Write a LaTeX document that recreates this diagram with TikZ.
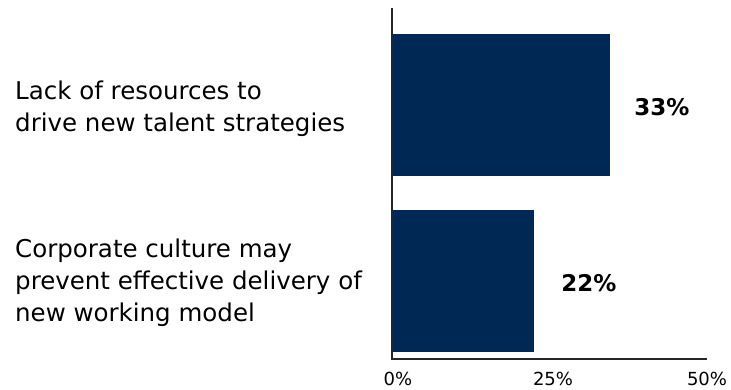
\documentclass[tikz,border=0pt]{standalone}
\usepackage{fontspec}
\setmainfont{DejaVu Sans}
\definecolor{navy}{HTML}{002855}
\tikzstyle{bar}=[fill=navy,inner sep=0pt,anchor=west]
\tikzstyle{val}=[font=\fontsize{23}{28}\selectfont\bfseries,inner sep=0pt]
\tikzstyle{tick}=[font=\fontsize{18}{22}\selectfont,inner sep=0pt]
\tikzstyle{cat}=[font=\fontsize{24.5}{32}\selectfont,align=left,anchor=west,inner sep=0pt]

\begin{document}
\begin{tikzpicture}[x=1pt,y=-1pt]
\useasboundingbox (0,0) rectangle (731,389);
\coordinate (top) at (392,8);
\coordinate (o) at (392,359);
\coordinate (end) at (707,359);
\node[bar,minimum width=218,minimum height=142] at (392,105) (b1) {};
\node[bar,minimum width=142,minimum height=142] at (392,281) (b2) {};
\node[val] at (662,107) (v1) {33\%};
\node[val] at (589,283) (v2) {22\%};
\node[cat] at (15,109) (c1) {Lack of resources to\\drive new talent strategies};
\node[cat] at (15,283) (c2) {Corporate culture may\\prevent effective delivery of\\new working model};
\draw[line width=1.5pt, black!85] (top) -- (o) -- (end);
\node[tick] at (398,379) (t0) {0\%};
\node[tick] at (553,379) (t25) {25\%};
\node[tick] at (707,379) (t50) {50\%};
\end{tikzpicture}
\end{document}
